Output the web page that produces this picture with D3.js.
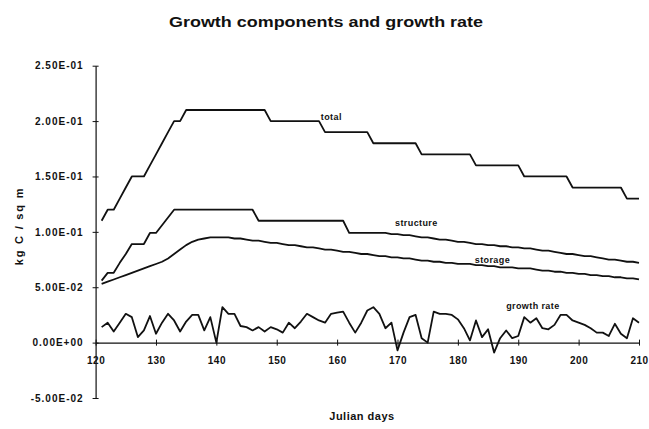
<!DOCTYPE html>
<html>
<head>
<meta charset="utf-8">
<script src="https://cdn.jsdelivr.net/npm/d3@7"></script>
<style>
  html, body { margin: 0; padding: 0; background: #fff; }
  svg { display: block; font-family: "Liberation Sans", Arial, sans-serif; }
</style>
</head>
<body>
<svg id="chart" width="649" height="429"></svg>
<script>
// ---------- data ----------
const days = [121,122,123,124,125,126,127,128,129,130,131,132,133,134,135,136,137,138,139,140,
  141,142,143,144,145,146,147,148,149,150,151,152,153,154,155,156,157,158,159,160,
  161,162,163,164,165,166,167,168,169,170,171,172,173,174,175,176,177,178,179,180,
  181,182,183,184,185,186,187,188,189,190,191,192,193,194,195,196,197,198,199,200,
  201,202,203,204,205,206,207,208,209,210];

const total = [0.11,0.12,0.12,0.13,0.14,0.15,0.15,0.15,0.16,0.17,0.18,0.19,0.20,0.20,
  0.21,0.21,0.21,0.21,0.21,0.21,0.21,0.21,0.21,0.21,0.21,0.21,0.21,0.21,
  0.20,0.20,0.20,0.20,0.20,0.20,0.20,0.20,0.20,
  0.19,0.19,0.19,0.19,0.19,0.19,0.19,0.19,
  0.18,0.18,0.18,0.18,0.18,0.18,0.18,0.18,
  0.17,0.17,0.17,0.17,0.17,0.17,0.17,0.17,0.17,
  0.16,0.16,0.16,0.16,0.16,0.16,0.16,0.16,
  0.15,0.15,0.15,0.15,0.15,0.15,0.15,0.15,
  0.14,0.14,0.14,0.14,0.14,0.14,0.14,0.14,0.14,
  0.13,0.13,0.13];

const structure = [0.056,0.063,0.063,0.072,0.080,0.089,0.089,0.089,0.099,0.099,0.106,0.113,
  0.12,0.12,0.12,0.12,0.12,0.12,0.12,0.12,0.12,0.12,0.12,0.12,0.12,0.12,
  0.11,0.11,0.11,0.11,0.11,0.11,0.11,0.11,0.11,0.11,0.11,0.11,0.11,0.11,0.11,
  0.099,0.099,0.099,0.099,0.099,0.099,0.099,
  0.098,0.098,0.097,0.097,0.096,0.095,0.095,0.094,0.093,0.093,0.092,0.091,0.091,0.090,
  0.089,0.089,0.088,0.088,0.087,0.087,0.086,0.086,0.085,0.085,0.084,0.083,0.083,0.082,
  0.081,0.080,0.080,0.079,0.078,0.078,0.077,0.076,0.075,0.075,0.074,0.073,0.073,0.072];

const storage = [0.053,0.055,0.057,0.059,0.061,0.063,0.065,0.067,0.069,0.071,0.073,0.076,
  0.080,0.084,0.088,0.091,0.093,0.094,0.095,0.095,0.095,0.095,0.094,0.094,0.093,0.092,
  0.092,0.091,0.090,0.090,0.089,0.088,0.088,0.087,0.086,0.086,0.085,0.084,0.084,0.083,
  0.082,0.082,0.081,0.080,0.080,0.079,0.078,0.078,0.077,0.077,0.076,0.076,0.075,0.074,
  0.074,0.073,0.073,0.072,0.072,0.071,0.071,0.071,0.070,0.070,0.069,0.069,0.068,0.068,
  0.068,0.067,0.067,0.067,0.066,0.065,0.065,0.064,0.064,0.063,0.063,0.062,0.062,0.061,
  0.061,0.060,0.060,0.059,0.059,0.058,0.058,0.057];

const growthRate = [0.014,0.018,0.010,0.018,0.026,0.023,0.005,0.011,0.024,0.008,
  0.018,0.026,0.020,0.010,0.019,0.025,0.025,0.011,0.023,0.000,
  0.032,0.026,0.026,0.015,0.014,0.011,0.014,0.010,0.014,0.012,
  0.009,0.018,0.013,0.019,0.026,0.023,0.020,0.018,0.026,0.027,
  0.028,0.018,0.009,0.018,0.029,0.032,0.026,0.013,0.018,-0.007,
  0.009,0.023,0.025,0.004,0.000,0.028,0.026,0.026,0.025,0.021,
  0.013,0.002,0.020,0.005,0.012,-0.009,0.004,0.011,0.004,0.006,
  0.023,0.018,0.022,0.013,0.012,0.016,0.025,0.025,0.020,0.018,
  0.016,0.013,0.009,0.009,0.006,0.017,0.008,0.004,0.022,0.018];

const xTickValues = [120,130,140,150,160,170,180,190,200,210];
const yTickValues = [-0.05,0,0.05,0.10,0.15,0.20,0.25];
const yTickLabels = ["-5.00E-02","0.00E+00","5.00E-02","1.00E-01","1.50E-01","2.00E-01","2.50E-01"];

const seriesLabels = [
  {name: "total", day: 157.3, value: 0.2006},
  {name: "structure", day: 169.6, value: 0.1049},
  {name: "storage", day: 182.8, value: 0.0719},
  {name: "growth rate", day: 188.0, value: 0.0299}
];

// ---------- layout ----------
const svg = d3.select("#chart");
const x = d3.scaleLinear().domain([120, 210]).range([95.6, 639]);
const y = d3.scaleLinear().domain([-0.05, 0.25]).range([398, 65.7]);
const ink = "#111";

// title
svg.append("text")
  .attr("x", 326).attr("y", 27)
  .attr("text-anchor", "middle")
  .attr("font-size", 14).attr("font-weight", "bold")
  .attr("textLength", 314)
  .attr("lengthAdjust", "spacingAndGlyphs")
  .attr("fill", ink)
  .text("Growth components and growth rate");

// y axis
const yAxis = d3.axisLeft(y)
  .tickValues(yTickValues)
  .tickFormat((d, i) => yTickLabels[i])
  .tickSizeInner(3).tickSizeOuter(0).tickPadding(9);
const gy = svg.append("g").attr("transform", `translate(${x(120)},0)`).call(yAxis);
gy.select(".domain").attr("stroke", ink).attr("stroke-width", 1.2);
gy.selectAll(".tick line").attr("x1", 3).attr("x2", -3).attr("stroke", ink);
gy.selectAll(".tick text")
  .attr("font-size", 10).attr("font-weight", "bold")
  .attr("letter-spacing", 1)
  .attr("fill", ink)
  .attr("font-family", "'Liberation Sans', Arial, sans-serif");

// x axis at zero
const xAxis = d3.axisBottom(x)
  .tickValues(xTickValues)
  .tickFormat(d3.format("d"))
  .tickSizeInner(3).tickSizeOuter(0).tickPadding(11.5);
const gx = svg.append("g").attr("transform", `translate(0,${y(0)})`).call(xAxis);
gx.select(".domain").attr("stroke", ink).attr("stroke-width", 1.2);
gx.selectAll(".tick line").attr("y1", -3).attr("y2", 3).attr("stroke", ink);
gx.selectAll(".tick text")
  .attr("font-size", 10).attr("font-weight", "bold")
  .attr("letter-spacing", 0.5)
  .attr("fill", ink)
  .attr("font-family", "'Liberation Sans', Arial, sans-serif");

// axis titles
svg.append("text")
  .attr("transform", "translate(23,226) rotate(-90)")
  .attr("text-anchor", "middle")
  .attr("font-size", 11).attr("font-weight", "bold")
  .attr("letter-spacing", 1.8)
  .attr("fill", ink)
  .text("kg C / sq m");

svg.append("text")
  .attr("x", 362).attr("y", 420)
  .attr("text-anchor", "middle")
  .attr("font-size", 11).attr("font-weight", "bold")
  .attr("letter-spacing", 0.5)
  .attr("fill", ink)
  .text("Julian days");

// lines
const line = d3.line().x((d, i) => x(days[i])).y(d => y(d));
[total, structure, storage, growthRate].forEach(s => {
  svg.append("path")
    .datum(s)
    .attr("d", line)
    .attr("fill", "none")
    .attr("stroke", ink)
    .attr("stroke-width", 1.8)
    .attr("stroke-linejoin", "round");
});

// series labels
seriesLabels.forEach(l => {
  svg.append("text")
    .attr("x", x(l.day)).attr("y", y(l.value))
    .attr("font-size", 9).attr("font-weight", "bold")
    .attr("letter-spacing", 0.4)
    .attr("fill", ink)
    .text(l.name);
});
</script>
</body>
</html>
